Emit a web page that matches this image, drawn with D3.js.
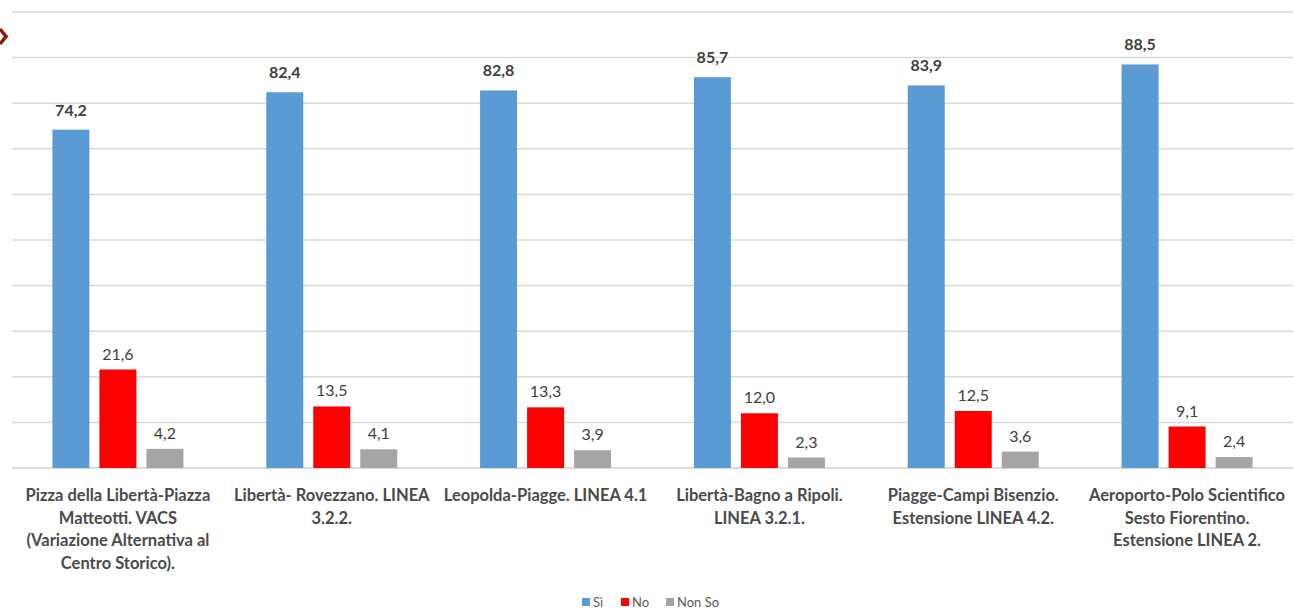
<!DOCTYPE html>
<html>
<head>
<meta charset="UTF-8" />
<title>Sì / No / Non So per linea</title>
<script src="https://d3js.org/d3.v7.min.js"></script>
<style>
  body { margin: 0; background: #fff; }
  text { font-family: Lato, "Open Sans", sans-serif; }
  .grid line { stroke: #d9d9d9; stroke-width: 1.5; }
  .cat { font-size: 16.5px; font-weight: bold; fill: #4a4a4a; }
  .val { font-size: 16px; fill: #404040; }
  .legend text { font-size: 13px; fill: #595959; }
</style>
</head>
<body>
<div id="chart"></div>
<script>
// data
var categories = [
  ["Pizza della Libertà-Piazza", "Matteotti. VACS", "(Variazione Alternativa al", "Centro Storico)."],
  ["Libertà- Rovezzano. LINEA", "3.2.2."],
  ["Leopolda-Piagge. LINEA 4.1"],
  ["Libertà-Bagno a Ripoli.", "LINEA 3.2.1."],
  ["Piagge-Campi Bisenzio.", "Estensione LINEA 4.2."],
  ["Aeroporto-Polo Scientifico", "Sesto Fiorentino.", "Estensione LINEA 2."]
];
var siValues    = [74.2, 82.4, 82.8, 85.7, 83.9, 88.5];
var noValues    = [21.6, 13.5, 13.3, 12.0, 12.5, 9.1];
var nonSoValues = [4.2, 4.1, 3.9, 2.3, 3.6, 2.4];
var seriesNames = ["Sì", "No", "Non So"];
var seriesColors = ["#5b9bd5", "#ff0000", "#a5a5a5"];
var yTicks = [0, 10, 20, 30, 40, 50, 60, 70, 80, 90, 100];

var W = 1294, H = 609;
var svg = d3.select("#chart").append("svg")
  .attr("width", W).attr("height", H);

var x = d3.scaleBand().domain(d3.range(categories.length)).range([11, 1294]);
var xs = d3.scaleBand().domain([0, 1, 2]).range([-65.5, 65.5]).paddingInner(0.213);
var y = d3.scaleLinear().domain([0, 100]).range([468, 12]);

// gridlines
svg.append("g").attr("class", "grid")
  .selectAll("line").data(yTicks).enter().append("line")
  .attr("x1", 12).attr("x2", 1293)
  .attr("y1", function(d) { return y(d); })
  .attr("y2", function(d) { return y(d); })
  .style("stroke", function(d) { return d === 0 ? "#cfcfcf" : null; });

// little chevron at the left edge (slide decoration)
svg.append("path")
  .attr("d", "M0,29 L6,36.5 L0,44")
  .attr("fill", "none").attr("stroke", "#8b1a00").attr("stroke-width", 3.5);

var series = [siValues, noValues, nonSoValues];
var rows = [];
categories.forEach(function(c, i) {
  series.forEach(function(s, j) { rows.push({cat: i, ser: j, v: s[i]}); });
});

var bw = xs.bandwidth();
svg.append("g").selectAll("rect").data(rows).enter().append("rect")
  .attr("x", function(d) { return x(d.cat) + x.bandwidth() / 2 + xs(d.ser); })
  .attr("y", function(d) { return y(d.v); })
  .attr("width", bw)
  .attr("height", function(d) { return y(0) - y(d.v); })
  .attr("fill", function(d) { return seriesColors[d.ser]; });

svg.append("g").selectAll("text").data(rows).enter().append("text")
  .attr("class", "val")
  .attr("x", function(d) { return x(d.cat) + x.bandwidth() / 2 + xs(d.ser) + bw / 2; })
  .attr("y", function(d) { return y(d.v) - (d.ser === 0 ? 14 : 10); })
  .attr("text-anchor", "middle")
  .style("font-weight", function(d) { return d.ser === 0 ? "bold" : "normal"; })
  .text(function(d) { return d3.format(".1f")(d.v).replace(".", ","); });

// category labels
var cat = svg.append("g").selectAll("text").data(categories).enter().append("text")
  .attr("class", "cat")
  .attr("text-anchor", "middle")
  .attr("x", function(d, i) { return x(i) + x.bandwidth() / 2; })
  .attr("y", 501);
cat.selectAll("tspan").data(function(d) { return d; }).enter().append("tspan")
  .attr("x", function() { return d3.select(this.parentNode).attr("x"); })
  .attr("dy", function(d, k) { return k === 0 ? 0 : 22.6; })
  .text(function(d) { return d; });

// legend
var legend = svg.append("g").attr("class", "legend");
var lx = [582, 621, 666];
seriesNames.forEach(function(n, j) {
  legend.append("rect").attr("x", lx[j]).attr("y", 598)
    .attr("width", 8).attr("height", 8).attr("fill", seriesColors[j]);
  legend.append("text").attr("x", lx[j] + 11).attr("y", 607).text(n);
});
</script>
</body>
</html>
